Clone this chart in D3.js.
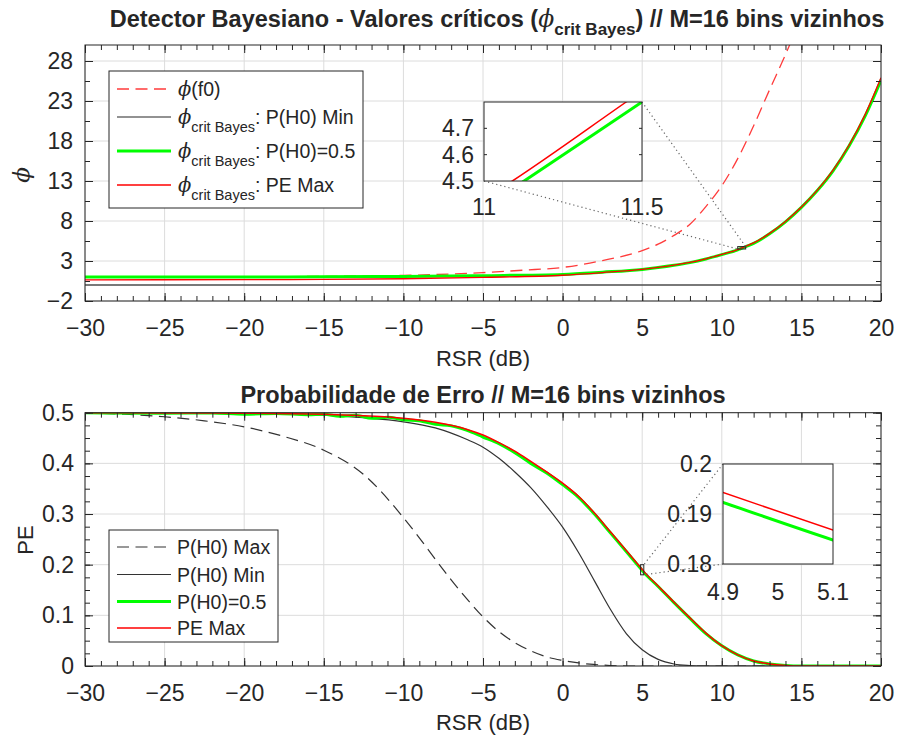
<!DOCTYPE html>
<html><head><meta charset="utf-8">
<script src="https://cdn.jsdelivr.net/npm/d3@7"></script>
<style>
body{margin:0;background:#fff}
svg{display:block}
text{font-family:"Liberation Sans",Arial,Helvetica,sans-serif;fill:#262626}
.phi{font-family:"DejaVu Serif","Liberation Serif",serif;font-style:italic}
</style>
</head><body>
<svg id="c" width="898" height="742"></svg>
<script>
// ---------------- DATA ----------------
const xTicks = [-30,-25,-20,-15,-10,-5,0,5,10,15,20];
const phiTicks = [-2,3,8,13,18,23,28];
const peTicks = [0,0.1,0.2,0.3,0.4,0.5];
const insetPhiXTicks = [11,11.5];
const insetPhiYTicks = [4.5,4.6,4.7];
const insetPeXTicks = [4.9,5,5.1];
const insetPeYTicks = [0.18,0.19,0.2];

// top: phi(f0) red dashed
const rsrPhiF0 = [-30,-20,-15,-12,-10,-5,-2.5,0,2.5,5,6,7,8,9,10,11,12,13,14,15];
const phiF0    = [1.0,1.02,1.08,1.12,1.2,1.55,1.85,2.2,3.05,4.3,5.1,6.2,7.6,9.8,12.4,15.8,19.9,24.4,28.8,33.5];
// top: phi crit Bayes, P(H0) Min (black)
const rsrPhiMin = [-30,20];
const phiMin    = [0,0];
// top: phi crit Bayes, P(H0)=0.5 (green)
const rsrPhi05 = [-30,-20,-15,-10,-5,0,2.5,5,6,7,8,9,10,11,11.127,11.5,12,13,14,15,16,17,18,19,20];
const phi05    = [1.0,1.0,1.02,1.07,1.17,1.32,1.6,1.95,2.18,2.46,2.8,3.25,3.8,4.4,4.5,4.8,5.2,6.4,7.9,9.7,11.8,14.3,17.4,21.1,25.6];
// top: phi crit Bayes, PE Max (red)
const rsrPhiPE = [-30,-20,-15,-10,-5,0,2.5,5,6,7,8,9,10,11,11.09,11.45,12,13,14,15,16,17,18,19,20];
const phiPE    = [0.65,0.67,0.7,0.78,0.95,1.22,1.55,1.95,2.19,2.48,2.82,3.28,3.83,4.43,4.5,4.8,5.26,6.45,7.95,9.75,11.85,14.4,17.5,21.3,25.9];

// bottom: PE, P(H0) Max (black dashed)
const rsrPeH0Max = [-30,-27.5,-25,-22.5,-20,-17.5,-15,-12.5,-10,-9,-8,-7,-6,-5,-4,-3,-2,-1,0,1,2,3,4,20];
const peH0Max    = [0.4995,0.497,0.492,0.484,0.472,0.453,0.426,0.378,0.293,0.253,0.211,0.17,0.132,0.097,0.068,0.046,0.03,0.018,0.011,0.006,0.003,0.001,0,0];
// bottom: PE, P(H0) Min (black)
const rsrPeH0Min = [-30,-20,-15,-12.5,-10,-8,-6,-5,-4,-3,-2,-1,0,1,2,3,4,5,6,7,8,9,20];
const peH0Min    = [0.5,0.499,0.495,0.49,0.482,0.47,0.447,0.432,0.41,0.383,0.352,0.315,0.274,0.224,0.168,0.112,0.064,0.032,0.013,0.004,0.001,0,0];
// bottom: PE, P(H0)=0.5 (green)
const rsrPe05 = [-30,-25,-22,-20,-18,-16,-15,-14,-13,-12,-11,-10,-9,-8,-7,-6,-5,-4,-3,-2,-1,0,1,2,3,4,4.9,5.1,6,7,8,9,10,11,12,13,14,15,20];
const pe05    = [0.5,0.499,0.4995,0.497,0.4985,0.496,0.497,0.493,0.495,0.489,0.491,0.486,0.484,0.477,0.474,0.465,0.452,0.439,0.421,0.4,0.381,0.358,0.333,0.3,0.263,0.226,0.1923,0.1848,0.157,0.125,0.094,0.064,0.040,0.022,0.010,0.004,0.001,0,0];
// bottom: PE Max (red)
const rsrPeMax = [-30,-25,-20,-15,-12.5,-10,-8,-6,-5,-4,-3,-2,-1,0,1,2,3,4,4.9,5.1,6,7,8,9,10,11,12,13,14,15,20];
const peMax    = [0.5,0.4995,0.499,0.497,0.494,0.489,0.481,0.467,0.456,0.441,0.424,0.404,0.383,0.361,0.335,0.302,0.265,0.228,0.1943,0.1868,0.158,0.126,0.095,0.065,0.040,0.022,0.010,0.004,0.001,0,0];

// ---------------- DRAW ----------------
const svg = d3.select("#c");
const zip = (xs, ys) => xs.map((v,i)=>[v, ys[i]]);
const fmt = d => d < 0 ? "\u2212" + Math.abs(d) : String(d);

const P1 = {l:85, r:881, t:45, b:301};
const P2 = {l:85, r:881, t:412.7, b:666};
const x1 = d3.scaleLinear().domain([-30,20]).range([P1.l,P1.r]);
const y1 = d3.scaleLinear().domain([-2,30]).range([P1.b,P1.t]);
const x2 = d3.scaleLinear().domain([-30,20]).range([P2.l,P2.r]);
const y2 = d3.scaleLinear().domain([0,0.5]).range([P2.b,P2.t]);

const defs = svg.append("defs");
function clip(id, x, y){
  const [a,b]=x.range(), [c,d]=y.range();
  defs.append("clipPath").attr("id",id).append("rect")
    .attr("x",Math.min(a,b)).attr("y",Math.min(c,d))
    .attr("width",Math.abs(b-a)).attr("height",Math.abs(d-c));
  return `url(#${id})`;
}

function grid(g, x, y, xt, yt){
  const [xa,xb]=x.range(), [yb,ya]=y.range();
  g.append("g").selectAll("line").data(xt).join("line")
    .attr("x1",d=>x(d)).attr("x2",d=>x(d)).attr("y1",yb).attr("y2",ya)
    .attr("stroke","#dcdcdc").attr("stroke-width",1);
  g.append("g").selectAll("line").data(yt).join("line")
    .attr("y1",d=>y(d)).attr("y2",d=>y(d)).attr("x1",xa).attr("x2",xb)
    .attr("stroke","#dcdcdc").attr("stroke-width",1);
}

function frame(g, x, y, xt, yt, xm, ym, fontSize, yPad){
  const [xa,xb]=x.range(), [yb,ya]=y.range();
  const style = sel => { sel.select(".domain").remove();
    sel.selectAll("line").attr("stroke","#262626");
    sel.selectAll("text").attr("fill","#262626").style("font-size",fontSize+"px")
      .style("font-family",'"Liberation Sans",Arial,sans-serif'); };
  g.append("g").attr("transform",`translate(0,${yb})`).call(d3.axisBottom(x).tickValues(xm).tickSize(-5).tickFormat("")).call(style);
  g.append("g").attr("transform",`translate(0,${ya})`).call(d3.axisTop(x).tickValues(xm).tickSize(-5).tickFormat("")).call(style);
  g.append("g").attr("transform",`translate(${xa},0)`).call(d3.axisLeft(y).tickValues(ym).tickSize(-5).tickFormat("")).call(style);
  g.append("g").attr("transform",`translate(${xb},0)`).call(d3.axisRight(y).tickValues(ym).tickSize(-5).tickFormat("")).call(style);
  g.append("g").attr("transform",`translate(0,${yb})`).call(d3.axisBottom(x).tickValues(xt).tickSize(-8).tickPadding(19).tickFormat(fmt)).call(style);
  g.append("g").attr("transform",`translate(0,${ya})`).call(d3.axisTop(x).tickValues(xt).tickSize(-8).tickFormat("")).call(style);
  g.append("g").attr("transform",`translate(${xa},0)`).call(d3.axisLeft(y).tickValues(yt).tickSize(-8).tickPadding(yPad).tickFormat(fmt)).call(style);
  g.append("g").attr("transform",`translate(${xb},0)`).call(d3.axisRight(y).tickValues(yt).tickSize(-8).tickFormat("")).call(style);
  g.append("rect").attr("x",xa).attr("y",ya).attr("width",xb-xa).attr("height",yb-ya)
    .attr("fill","none").attr("stroke","#262626").attr("stroke-width",1);
}

function curve(g, x, y, xs, ys, color, w, dash, clipUrl){
  const line = d3.line().x(d=>x(d[0])).y(d=>y(d[1])).curve(d3.curveMonotoneX);
  g.append("path").datum(zip(xs,ys)).attr("d",line)
    .attr("fill","none").attr("stroke",color).attr("stroke-width",w)
    .attr("stroke-dasharray",dash||null).attr("clip-path",clipUrl)
    .attr("stroke-linejoin","round");
}

const RED="#ff0000", GREEN="#00ff00", BLK="#262626";

// ===== TOP PLOT =====
const g1 = svg.append("g");
grid(g1, x1, y1, xTicks, phiTicks);
const c1 = clip("c1", x1, y1);
curve(g1,x1,y1,rsrPhiF0,phiF0,"#ff3b3b",1.3,"12,6.5",c1);
curve(g1,x1,y1,rsrPhiMin,phiMin,"#4d4d4d",1.6,null,c1);
curve(g1,x1,y1,rsrPhi05,phi05,GREEN,3,null,c1);
curve(g1,x1,y1,rsrPhiPE,phiPE,RED,1.3,null,c1);
frame(g1, x1, y1, xTicks, phiTicks, d3.range(-30,20.5,1), d3.range(-2,30.1,2.5), 23, 12);

// title
const t1 = svg.append("text").attr("x",497).attr("y",27).attr("text-anchor","middle")
  .style("font-size","23.5px").style("font-weight","bold").attr("fill","#000");
t1.append("tspan").text("Detector Bayesiano - Valores críticos (");
t1.append("tspan").attr("class","phi").style("font-weight","normal").text("ϕ");
t1.append("tspan").attr("dy",8).style("font-size","17px").text("crit Bayes");
t1.append("tspan").attr("dy",-8).text(") // M=16 bins vizinhos");
svg.append("text").attr("x",483).attr("y",366).attr("text-anchor","middle").style("font-size","22px").text("RSR (dB)");
svg.append("text").attr("class","phi").attr("transform","translate(29,175) rotate(-90)").attr("text-anchor","middle").style("font-size","23px").text("ϕ");

// legend top
const L1 = svg.append("g");
L1.append("rect").attr("x",109).attr("y",71).attr("width",254).attr("height",137).attr("fill","#fff").attr("stroke","#262626");
const leg1 = [
  {y:89, color:"#ff3b3b", w:1.3, dash:"12,6.5", sub:false, label:"(f0)"},
  {y:117, color:BLK, w:1.2, dash:null, sub:true, label:": P(H0) Min"},
  {y:151, color:GREEN, w:3, dash:null, sub:true, label:": P(H0)=0.5"},
  {y:185, color:RED, w:1.5, dash:null, sub:true, label:": PE Max"}
];
leg1.forEach(e=>{
  L1.append("line").attr("x1",117).attr("x2",171).attr("y1",e.y).attr("y2",e.y)
    .attr("stroke",e.color).attr("stroke-width",e.w).attr("stroke-dasharray",e.dash);
  const t = L1.append("text").attr("x",178).attr("y",e.y+7).style("font-size","19.5px");
  t.append("tspan").attr("class","phi").text("ϕ");
  if(e.sub){
    t.append("tspan").attr("dy",8).style("font-size","14.5px").text("crit Bayes");
    t.append("tspan").attr("dy",-8).text(e.label);
  } else t.append("tspan").text(e.label);
});

// inset top
const ix1 = d3.scaleLinear().domain([11,11.5]).range([484,642]);
const iy1 = d3.scaleLinear().domain([4.5,4.8]).range([181,102]);
const I1 = svg.append("g");
I1.append("rect").attr("x",x1(11)).attr("y",y1(4.8)).attr("width",x1(11.5)-x1(11)).attr("height",y1(4.5)-y1(4.8))
  .attr("fill","none").attr("stroke","#262626").attr("stroke-width",1);
I1.append("line").attr("x1",ix1(11)).attr("y1",iy1(4.5)).attr("x2",x1(11)).attr("y2",y1(4.5))
  .attr("stroke","#666").attr("stroke-width",1.2).attr("stroke-dasharray","1.2,3");
I1.append("line").attr("x1",ix1(11.5)).attr("y1",iy1(4.8)).attr("x2",x1(11.5)).attr("y2",y1(4.8))
  .attr("stroke","#666").attr("stroke-width",1.2).attr("stroke-dasharray","1.2,3");
I1.append("rect").attr("x",484).attr("y",102).attr("width",158).attr("height",79).attr("fill","#fff");
const ci1 = clip("ci1", ix1, iy1);
curve(I1,ix1,iy1,rsrPhi05,phi05,GREEN,3,null,ci1);
curve(I1,ix1,iy1,rsrPhiPE,phiPE,RED,1.5,null,ci1);
I1.append("rect").attr("x",484).attr("y",102).attr("width",158).attr("height",79).attr("fill","none").attr("stroke","#262626");
I1.selectAll("line.tl").data(insetPhiYTicks.slice(1)).join("line")
  .attr("x1",484).attr("x2",487).attr("y1",d=>iy1(d)).attr("y2",d=>iy1(d)).attr("stroke","#262626");
I1.selectAll("line.tr").data(insetPhiYTicks.slice(1)).join("line")
  .attr("x1",642).attr("x2",639).attr("y1",d=>iy1(d)).attr("y2",d=>iy1(d)).attr("stroke","#262626");
I1.selectAll("text.yl").data(insetPhiYTicks).join("text")
  .attr("x",474).attr("y",d=>iy1(d)+8).attr("text-anchor","end").style("font-size","23px").text(fmt);
I1.selectAll("text.xl").data(insetPhiXTicks).join("text")
  .attr("x",d=>ix1(d)).attr("y",215).attr("text-anchor","middle").style("font-size","23px").text(fmt);

// ===== BOTTOM PLOT =====
const g2 = svg.append("g");
grid(g2, x2, y2, xTicks, peTicks);
const c2 = clip("c2", x2, y2);
curve(g2,x2,y2,rsrPeH0Max,peH0Max,"#333333",1.2,"12,6.5",c2);
curve(g2,x2,y2,rsrPeH0Min,peH0Min,"#333333",1.2,null,c2);
curve(g2,x2,y2,rsrPe05,pe05,GREEN,3,null,c2);
curve(g2,x2,y2,rsrPeMax,peMax,RED,1.5,null,c2);
frame(g2, x2, y2, xTicks, peTicks, d3.range(-30,20.5,1), d3.range(0,0.5001,0.025), 23, 11);

svg.append("text").attr("x",483).attr("y",403).attr("text-anchor","middle")
  .style("font-size","23.5px").style("font-weight","bold").attr("fill","#000").text("Probabilidade de Erro // M=16 bins vizinhos");
svg.append("text").attr("x",483).attr("y",730).attr("text-anchor","middle").style("font-size","22px").text("RSR (dB)");
svg.append("text").attr("transform","translate(33,540) rotate(-90)").attr("text-anchor","middle").style("font-size","22px").text("PE");

// legend bottom
const L2 = svg.append("g");
L2.append("rect").attr("x",109).attr("y",530).attr("width",169).attr("height",112).attr("fill","#fff").attr("stroke","#262626");
const leg2 = [
  {y:547, color:"#333", w:1.2, dash:"12,6.5", label:"P(H0) Max"},
  {y:574.5, color:"#333", w:1.2, dash:null, label:"P(H0) Min"},
  {y:601.5, color:GREEN, w:3, dash:null, label:"P(H0)=0.5"},
  {y:628, color:RED, w:1.5, dash:null, label:"PE Max"}
];
leg2.forEach(e=>{
  L2.append("line").attr("x1",117).attr("x2",171).attr("y1",e.y).attr("y2",e.y)
    .attr("stroke",e.color).attr("stroke-width",e.w).attr("stroke-dasharray",e.dash);
  L2.append("text").attr("x",177).attr("y",e.y+7).style("font-size","19.5px").text(e.label);
});

// inset bottom
const ix2 = d3.scaleLinear().domain([4.9,5.1]).range([723,833]);
const iy2 = d3.scaleLinear().domain([0.18,0.2]).range([564,464]);
const I2 = svg.append("g");
I2.append("rect").attr("x",x2(4.9)).attr("y",y2(0.2)).attr("width",x2(5.1)-x2(4.9)).attr("height",y2(0.18)-y2(0.2))
  .attr("fill","none").attr("stroke","#262626").attr("stroke-width",1);
I2.append("line").attr("x1",ix2(4.9)).attr("y1",iy2(0.2)).attr("x2",x2(5.1)).attr("y2",y2(0.2))
  .attr("stroke","#666").attr("stroke-width",1.2).attr("stroke-dasharray","1.2,3");
I2.append("line").attr("x1",ix2(4.9)).attr("y1",iy2(0.18)).attr("x2",x2(5.1)).attr("y2",y2(0.18))
  .attr("stroke","#666").attr("stroke-width",1.2).attr("stroke-dasharray","1.2,3");
I2.append("rect").attr("x",723).attr("y",464).attr("width",110).attr("height",100).attr("fill","#fff");
const ci2 = clip("ci2", ix2, iy2);
curve(I2,ix2,iy2,rsrPe05,pe05,GREEN,3,null,ci2);
curve(I2,ix2,iy2,rsrPeMax,peMax,RED,1.5,null,ci2);
I2.append("rect").attr("x",723).attr("y",464).attr("width",110).attr("height",100).attr("fill","none").attr("stroke","#262626");
I2.selectAll("text.yl").data(insetPeYTicks).join("text")
  .attr("x",712).attr("y",d=>iy2(d)+8).attr("text-anchor","end").style("font-size","23px").text(fmt);
I2.selectAll("text.xl").data(insetPeXTicks).join("text")
  .attr("x",d=>ix2(d)).attr("y",600).attr("text-anchor","middle").style("font-size","23px").text(fmt);
</script>
</body></html>
